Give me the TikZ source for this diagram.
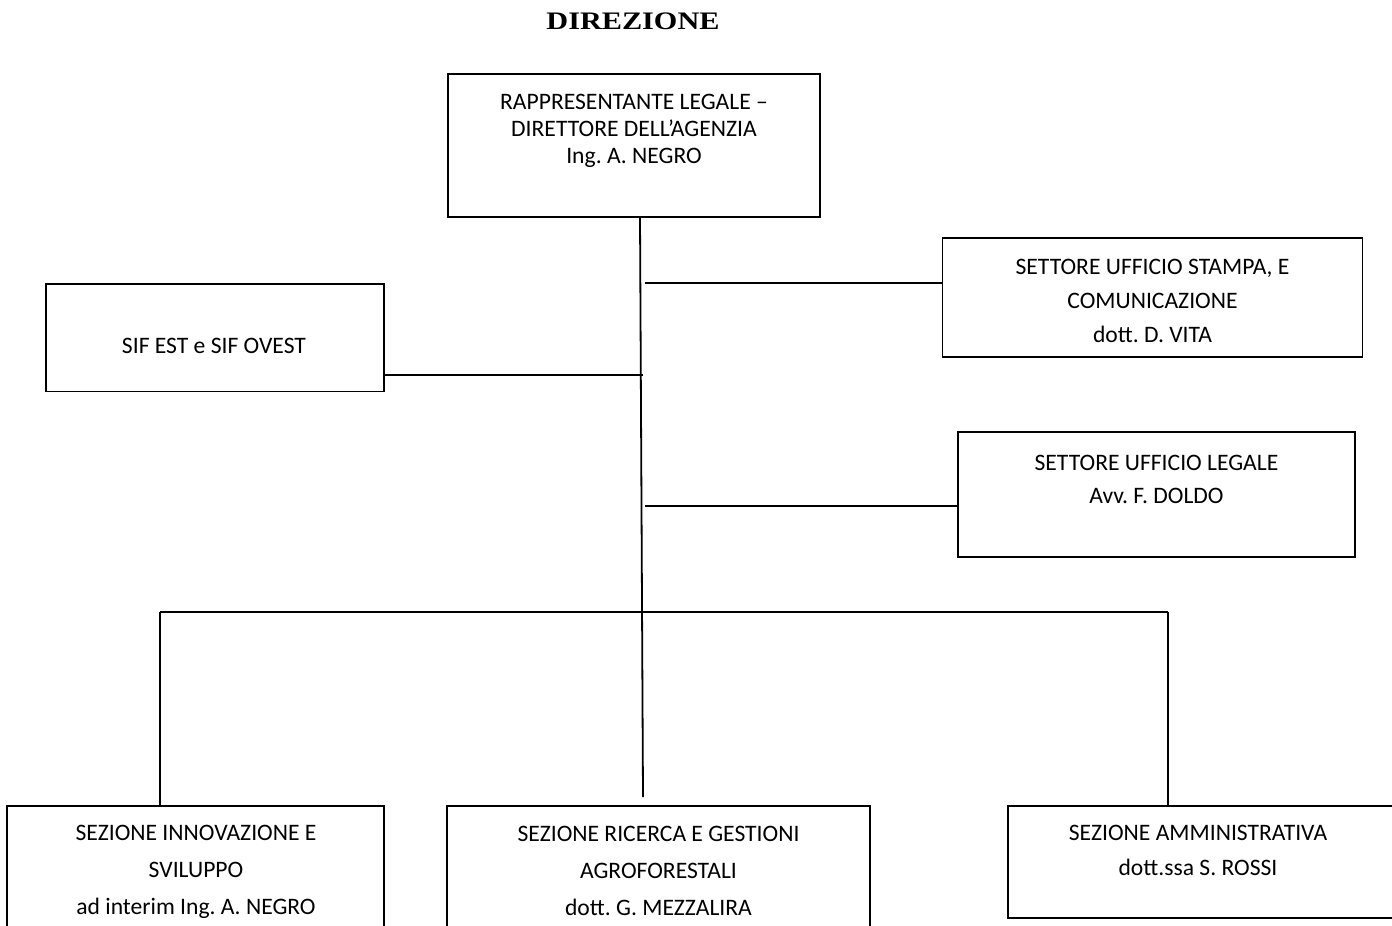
\documentclass[tikz,border=0pt]{standalone}
\usepackage{fontspec}
\setmainfont{Carlito}
\newfontfamily\titlefont[FakeStretch=1.2]{Liberation Serif}
\usepackage{tikz}
\frenchspacing

\begin{document}
\begin{tikzpicture}[x=1pt,y=-1pt,
  box/.style={draw, line width=1.8pt, inner sep=0pt},
  lbl/.style={align=center, inner sep=0pt, font=\fontsize{23.6}{#1}\selectfont},
  lbl/.default=27,
  conn/.style={line width=1.8pt}]
\clip (0,0) rectangle (1392,926);
%
\node[font=\titlefont\fontsize{25.2}{30}\selectfont\bfseries] (title) at (633,21.5) {DIREZIONE};
%
\node[box, minimum width=372, minimum height=143] (dir) at (634,145.5) {};
\node[lbl=27] (dirtxt) at (634,131) {RAPPRESENTANTE LEGALE --\\DIRETTORE DELL’AGENZIA\\Ing. A. NEGRO};
%
\node[box, minimum width=420, minimum height=119] (stampa) at (1152.5,297.5) {};
\node[lbl=34] (stampatxt) at (1152.5,300.5) {SETTORE UFFICIO STAMPA, E\\COMUNICAZIONE\\dott. D. VITA};
%
\node[box, minimum width=338, minimum height=107.5] (sif) at (215,337.75) {};
\node[lbl] (siftxt) at (214,345.5) {SIF EST e SIF OVEST};
%
\node[box, minimum width=397, minimum height=125] (legale) at (1156.5,494.5) {};
\node[lbl=33] (legaletxt) at (1156.5,479.5) {SETTORE UFFICIO LEGALE\\Avv. F. DOLDO};
%
\node[box, minimum width=377, minimum height=200] (innov) at (195.5,906) {};
\node[lbl=37] (innovtxt) at (196,871.5) {SEZIONE INNOVAZIONE E\\SVILUPPO\\ad interim Ing. A. NEGRO};
%
\node[box, minimum width=423, minimum height=200] (ricerca) at (658.5,906) {};
\node[lbl=37] (ricercatxt) at (658.5,870.5) {SEZIONE RICERCA E GESTIONI\\AGROFORESTALI\\dott. G. MEZZALIRA};
%
\node[box, minimum width=392, minimum height=112] (ammin) at (1204,862) {};
\node[lbl=35] (ammintxt) at (1198,850) {SEZIONE AMMINISTRATIVA\\dott.ssa S. ROSSI};
%
\coordinate (spinetop) at (640,217);
\coordinate (spinebot) at (643,797);
\coordinate (jstampa) at (645,283);
\coordinate (jsif) at (643,375);
\coordinate (jlegale) at (645,506);
\coordinate (busl) at (160,612);
\coordinate (busr) at (1168,612);
%
\draw[conn] (spinetop) -- (spinebot);
\draw[conn] (jstampa) -- (jstampa -| stampa.west);
\draw[conn] (jsif) -- (jsif -| sif.east);
\draw[conn] (jlegale) -- (jlegale -| legale.west);
%
\draw[conn] (busl) -- (busr);
\draw[conn] (busl) -- ([yshift=-2]busl |- innov.north);
\draw[conn] (busr) -- (busr |- ammin.north);
\end{tikzpicture}
\end{document}
